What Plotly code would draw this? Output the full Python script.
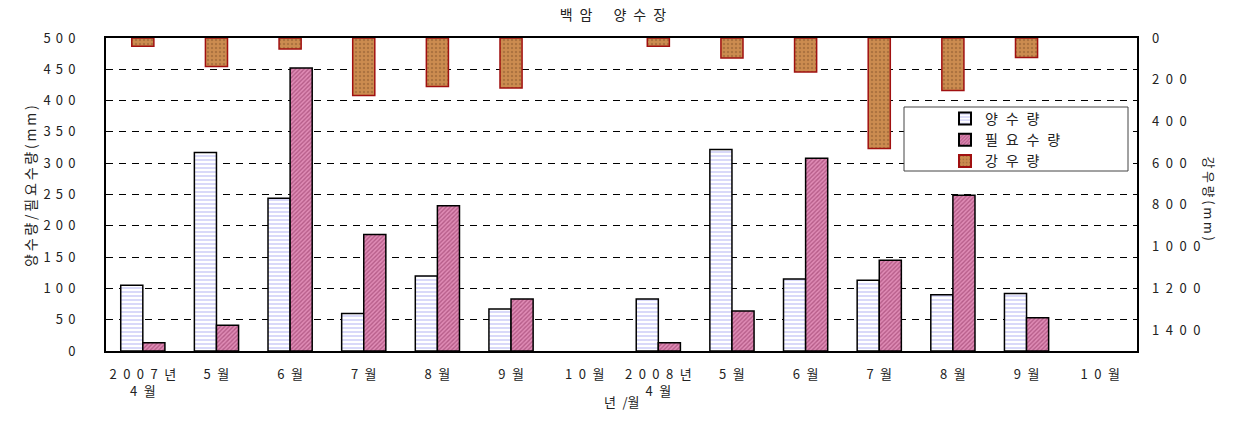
import plotly.graph_objects as go

EN = "\u2002"
TH = "\u2009"
categories = ["2 0 0 7 년<br>4 월", "5 월", "6 월", "7 월", "8 월", "9 월", "1 0 월",
              "2 0 0 8 년<br>4 월", "5 월", "6 월", "7 월", "8 월", "9 월", "1 0 월"]
pumped = [105, 317, 244, 60, 120, 67, None, 83, 322, 115, 113, 90, 92, None]
required = [13, 41, 452, 186, 232, 83, None, 13, 64, 308, 145, 249, 53, None]
rainfall = [40, 136, 53, 275, 233, 240, None, 40, 96, 163, 529, 251, 94, None]

left_ticks = [0, 50, 100, 150, 200, 250, 300, 350, 400, 450, 500]
right_ticks = [0, 200, 400, 600, 800, 1000, 1200, 1400]

def sp(s, gap=EN):
    return s.replace(" ", gap)

def spaced(v, gap=EN):
    return gap.join(str(v))

def loose(s, gap=TH):
    return gap.join(list(s))

x = list(range(len(categories)))
FONT = "Noto Sans CJK KR"
TXT = "#222222"
LG = EN + "\u200a"

fig = go.Figure()
fig.add_trace(go.Bar(
    x=x, y=pumped, name=sp("양 수 량", LG), width=0.3, offset=-0.3,
    marker=dict(color="white", line=dict(color="black", width=1.5),
                pattern=dict(shape="-", fgcolor="#b4b4f4", bgcolor="white", size=4, solidity=0.5)),
))
fig.add_trace(go.Bar(
    x=x, y=required, name=sp("필 요 수 량", LG), width=0.3, offset=0.0,
    marker=dict(color="#d47aa6", line=dict(color="black", width=1.5),
                pattern=dict(shape="/", fgcolor="#8a2c5a", bgcolor="#e08cb6", size=3, solidity=0.45)),
))
fig.add_trace(go.Bar(
    x=x, y=rainfall, name=sp("강 우 량", LG), width=0.3, offset=-0.15, yaxis="y2",
    marker=dict(color="#c8864a", line=dict(color="#a01010", width=1.5),
                pattern=dict(shape=".", fgcolor="#8c5a30", bgcolor="#cc8c50", size=4, solidity=0.3)),
))

L, R, T, B = 106, 107, 38, 79
W, H = 1244, 430
pw = W - L - R
ph = H - T - B

def px_x(p):
    return (p - L) / pw

def px_y(p):
    return (H - B - p) / ph

fig.update_layout(
    width=W, height=H,
    margin=dict(l=L, r=R, t=T, b=B, autoexpand=False),
    paper_bgcolor="white", plot_bgcolor="white",
    font=dict(family=FONT, size=13, color=TXT),
    barmode="overlay",
    showlegend=True,
    title=dict(text="백" + EN + "암" + "\u3000" + EN + "양" + EN + "수" + EN + "장",
               x=px_x(614), xanchor="center", y=1 - 15 / H, yanchor="middle",
               font=dict(family=FONT, size=14, color=TXT)),
    xaxis=dict(
        range=[-0.5, len(categories) - 0.5],
        tickmode="array", tickvals=x, ticktext=[sp(c) for c in categories],
        showline=True, linecolor="black", linewidth=2, mirror=True,
        showgrid=False, ticks="", ticklabelstandoff=10, automargin=False,
        tickfont=dict(family=FONT, size=13, color=TXT),
    ),
    yaxis=dict(
        range=[0, 500], tickmode="array", tickvals=left_ticks,
        ticktext=[spaced(v, "\u2004\u200a") for v in left_ticks],
        showline=True, linecolor="black", linewidth=2, mirror=True,
        showgrid=True, gridcolor="black", griddash="7px,6px", gridwidth=1,
        zeroline=False, ticks="", ticklabelstandoff=26, automargin=False,
        tickfont=dict(family=FONT, size=13, color=TXT),
    ),
    yaxis2=dict(
        range=[1500, 0], overlaying="y", side="right",
        tickmode="array", tickvals=right_ticks,
        ticktext=[spaced(v) for v in right_ticks],
        showgrid=False, zeroline=False, showline=False, ticks="", ticklabelstandoff=14,
        automargin=False,
        tickfont=dict(family=FONT, size=13, color=TXT),
    ),
    legend=dict(
        x=px_x(945), y=px_y(103), xanchor="left", yanchor="top",
        bgcolor="rgba(0,0,0,0)", borderwidth=0,
        font=dict(family=FONT, size=14, color=TXT),
        itemsizing="constant", tracegroupgap=0,
    ),
    shapes=[dict(type="rect", xref="paper", yref="paper",
                 x0=px_x(904), x1=px_x(1128), y0=px_y(171), y1=px_y(107),
                 line=dict(color="#444444", width=1), fillcolor="white", layer="above")],
    annotations=[
        dict(text=loose("양수량/필요수량(mm)"), xref="paper", yref="paper", x=px_x(18), y=px_y(186),
             textangle=-90, showarrow=False, font=dict(family=FONT, size=14, color=TXT)),
        dict(text=loose("강우량(mm)"), xref="paper", yref="paper", x=px_x(1221), y=px_y(198),
             textangle=90, showarrow=False, font=dict(family=FONT, size=13, color=TXT)),
        dict(text="년" + EN + "/월", xref="paper", yref="paper", x=px_x(622), y=px_y(413),
             showarrow=False, font=dict(family=FONT, size=13, color=TXT)),
    ],
)

fig.write_html("out.html", config={"displayModeBar": False},
               post_script="document.body.style.margin='0';")
